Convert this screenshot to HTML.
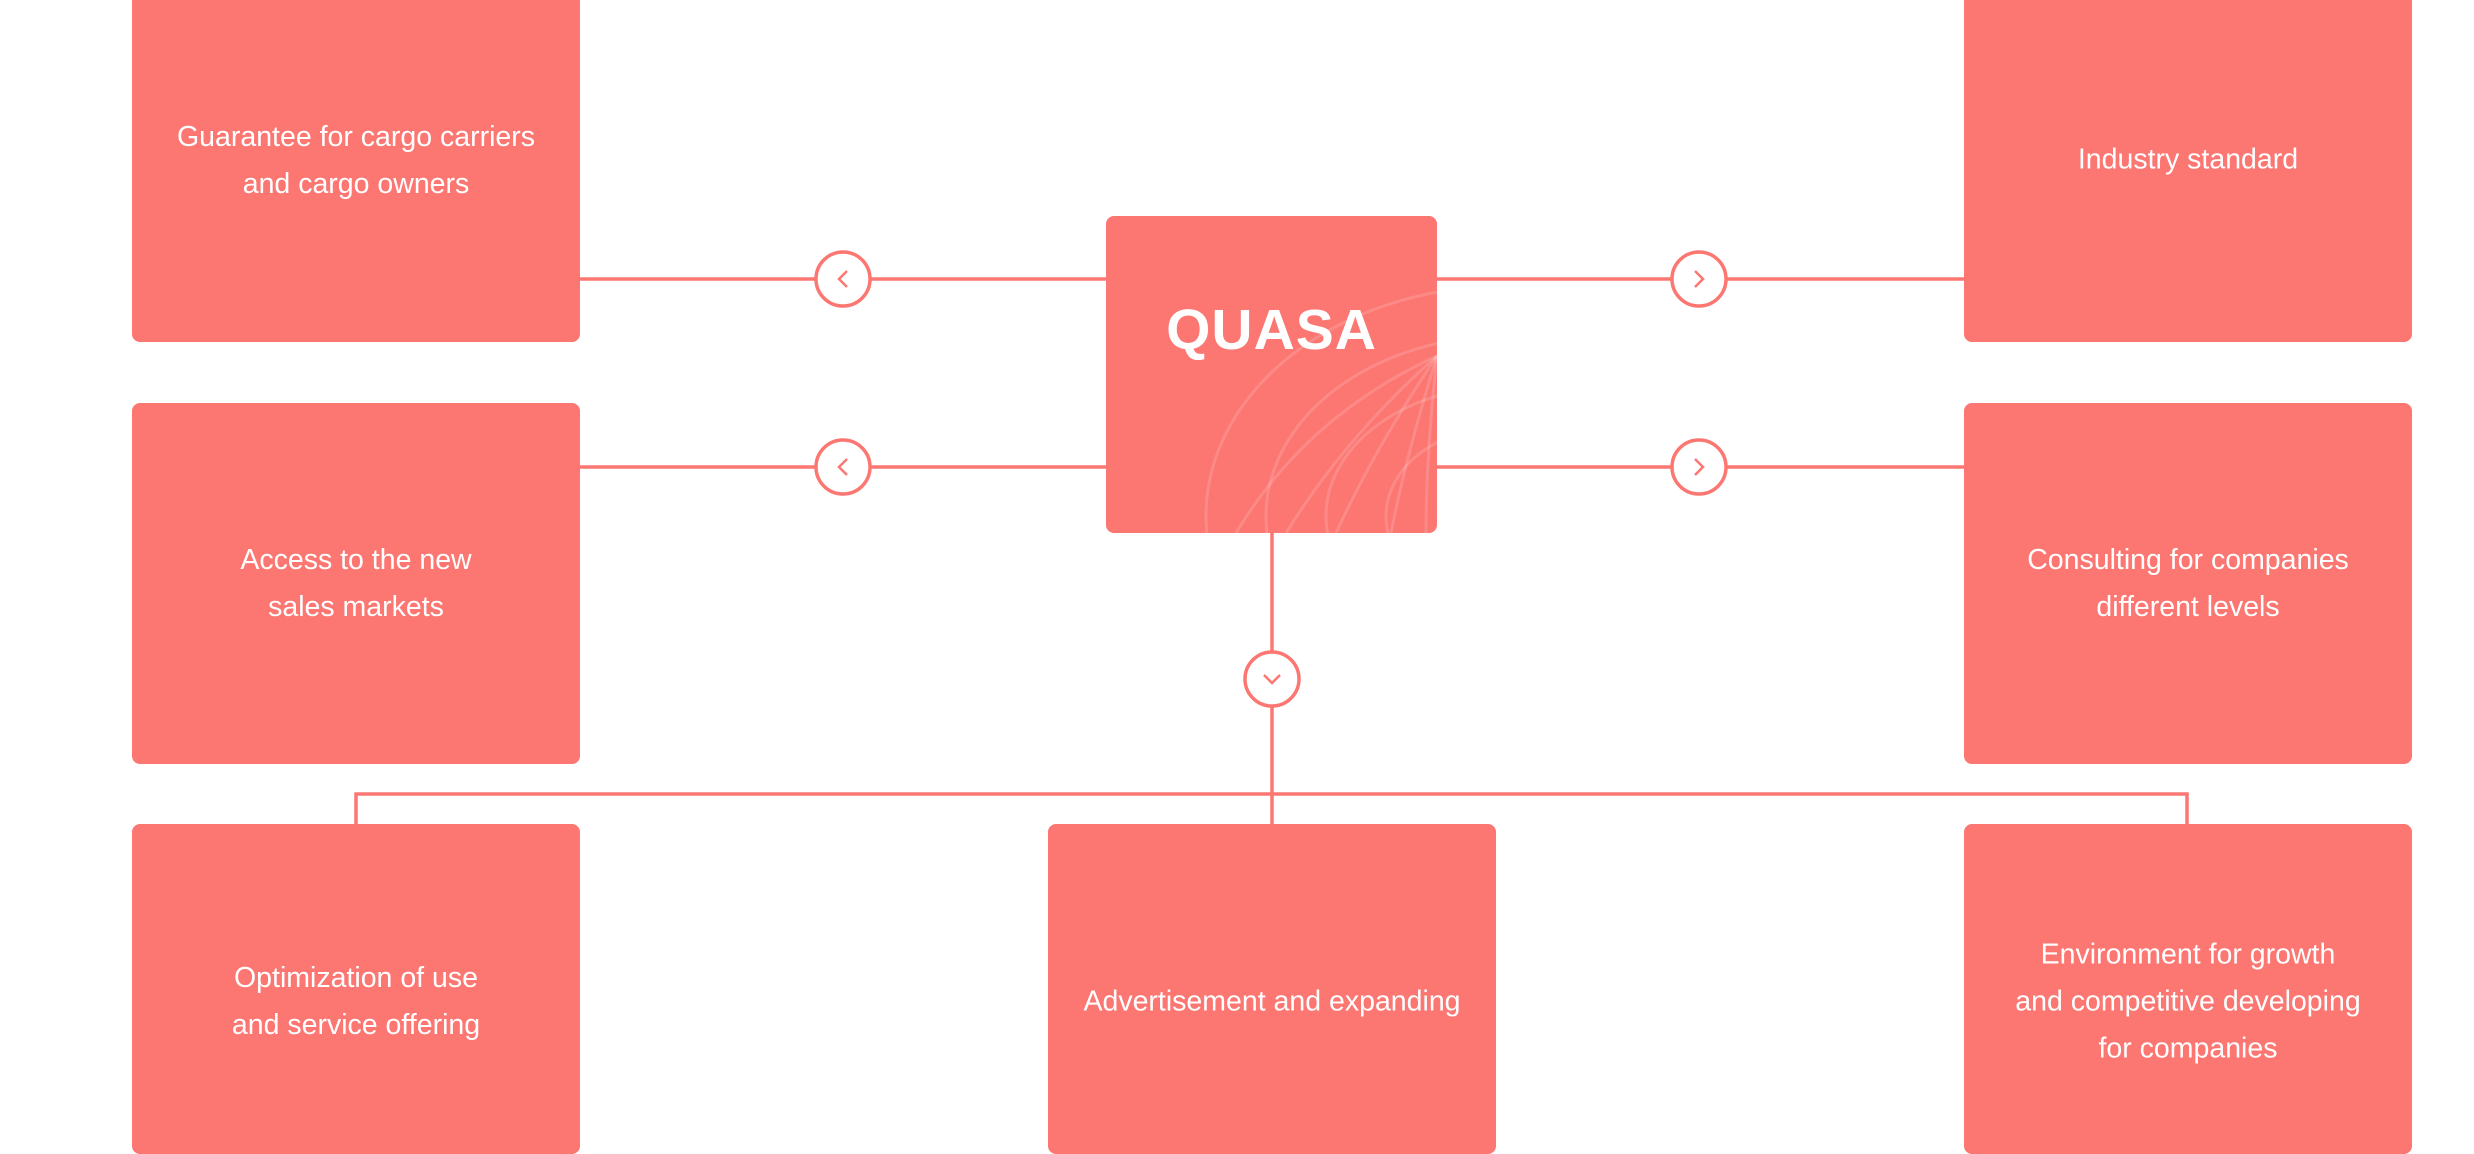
<!DOCTYPE html>
<html><head><meta charset="utf-8"><style>
html,body{margin:0;padding:0;background:#fff;}
body{width:2474px;height:1138px;position:relative;overflow:hidden;font-family:"Liberation Sans",sans-serif;}
.b{position:absolute;background:#fc7672;border-radius:8px;color:#fff;font-size:28.5px;line-height:47px;text-align:center;}
.t{position:absolute;left:0;right:0;transform:translateY(-50%);}
svg{position:absolute;left:0;top:0;}
</style></head><body>
<svg width="2474" height="1138">
<g stroke="#fc7672" stroke-width="3.5" fill="none">
<line x1="580" y1="279" x2="1106" y2="279"/>
<line x1="580" y1="467" x2="1106" y2="467"/>
<line x1="1437" y1="279" x2="1964" y2="279"/>
<line x1="1437" y1="467" x2="1964" y2="467"/>
<line x1="1272" y1="532" x2="1272" y2="824"/>
<polyline points="356,824 356,794 2187,794 2187,824"/>
<g fill="#fff">
<circle cx="843" cy="279" r="27"/><circle cx="843" cy="467" r="27"/>
<circle cx="1699" cy="279" r="27"/><circle cx="1699" cy="467" r="27"/>
<circle cx="1272" cy="679" r="27"/>
</g>
<g stroke-width="2.5">
<polyline points="847,271 839,279 847,287"/>
<polyline points="847,459 839,467 847,475"/>
<polyline points="1695,271 1703,279 1695,287"/>
<polyline points="1695,459 1703,467 1695,475"/>
<polyline points="1264,675 1272,683 1280,675"/>
</g>
</g>
</svg>
<div class="b" style="left:132px;top:-10px;width:448px;height:352px;"><div class="t" style="top:171px">Guarantee for cargo carriers<br>and cargo owners</div></div>
<div class="b" style="left:132px;top:403px;width:448px;height:361px;"><div class="t" style="top:181px">Access to the new<br>sales markets</div></div>
<div class="b" style="left:132px;top:824px;width:448px;height:330px;"><div class="t" style="top:178px">Optimization of use<br>and service offering</div></div>
<div class="b" style="left:1048px;top:824px;width:448px;height:330px;"><div class="t" style="top:178px">Advertisement and expanding</div></div>
<div class="b" style="left:1964px;top:824px;width:448px;height:330px;"><div class="t" style="top:178px">Environment for growth<br>and competitive developing<br>for companies</div></div>
<div class="b" style="left:1964px;top:-10px;width:448px;height:352px;"><div class="t" style="top:170px">Industry standard</div></div>
<div class="b" style="left:1964px;top:403px;width:448px;height:361px;"><div class="t" style="top:181px">Consulting for companies<br>different levels</div></div>
<div class="b" style="left:1106px;top:216px;width:331px;height:317px;overflow:hidden;">
<svg width="331" height="317" style="left:0;top:0"><g stroke="#fff" stroke-opacity="0.15" stroke-width="3" fill="none">
<ellipse cx="400" cy="300" rx="300" ry="230"/><ellipse cx="400" cy="300" rx="240" ry="180"/><ellipse cx="400" cy="300" rx="180" ry="130"/><ellipse cx="400" cy="300" rx="120" ry="90"/>
<path d="M331,140 Q200,200 130,317"/><path d="M331,140 Q240,220 180,317"/><path d="M331,140 Q270,230 230,317"/><path d="M331,140 Q300,240 285,317"/><path d="M331,140 Q320,240 320,317"/>
</g></svg>
<div style="position:absolute;left:0;right:0;top:84px;text-align:center;font-size:57px;font-weight:bold;line-height:60px;letter-spacing:1px;">QUASA</div>
</div>
</body></html>
